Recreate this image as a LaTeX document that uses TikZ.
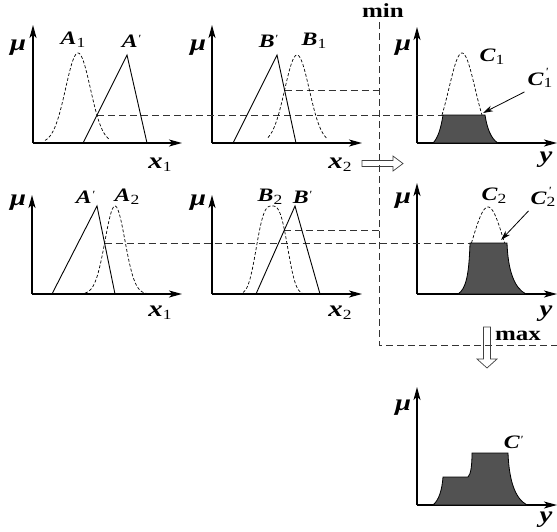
\documentclass[tikz,border=0pt]{standalone}
\usepackage{fontspec}
\setmainfont{Liberation Serif}[FakeStretch=1.25]
\usetikzlibrary{arrows.meta}
\newcommand\mysub[1]{\raisebox{-0.3ex}{\fontsize{14}{14}\selectfont\mdseries\upshape #1}}
\newcommand\myprm{\raisebox{0.55ex}{\fontsize{11}{11}\selectfont\mdseries\textquotesingle}}
\newcommand\mysubp[1]{\rlap{\kern1.5pt\raisebox{1.1ex}{\fontsize{11}{11}\selectfont\mdseries\textquotesingle}}\mysub{#1}}
\begin{document}
\begin{tikzpicture}[x=1pt,y=-1pt,
  axisln/.style={line width=1.2pt,-{Stealth[length=13pt,width=7pt,inset=3.5pt]}},
  tri/.style={line width=0.9pt},
  bell/.style={line width=0.7pt,dash pattern=on 3pt off 2pt},
  guide/.style={line width=0.8pt,dash pattern=on 7pt off 4pt,draw=black!80},
  area/.style={fill=black!68,draw=black,line width=0.8pt},
  lab/.style={font=\fontsize{19}{19}\selectfont\bfseries\itshape,inner sep=0pt},
  axlab/.style={font=\fontsize{23}{23}\selectfont\bfseries\itshape,inner sep=0pt},
  word/.style={font=\fontsize{20}{20}\selectfont\bfseries,inner sep=0pt},
  hollow/.style={draw=black!75,line width=0.7pt},
  pointer/.style={line width=0.8pt,-{Stealth[length=10pt,width=6pt]}}]
\useasboundingbox (0,0) rectangle (557,531);

% ---------- axes ----------
\coordinate (o1) at (33,143);  \coordinate (t1) at (33,25);  \coordinate (r1) at (182,143);
\coordinate (o2) at (212,143); \coordinate (t2) at (212,25); \coordinate (r2) at (362,143);
\coordinate (o3) at (417,143); \coordinate (t3) at (417,27); \coordinate (r3) at (557,143);
\coordinate (o4) at (32,294);  \coordinate (t4) at (32,195); \coordinate (r4) at (182,294);
\coordinate (o5) at (212,294); \coordinate (t5) at (212,195);\coordinate (r5) at (362,294);
\coordinate (o6) at (417,294); \coordinate (t6) at (417,183);\coordinate (r6) at (557,294);
\coordinate (o7) at (417,505); \coordinate (t7) at (417,387);\coordinate (r7) at (557,505);
\foreach \i in {1,...,7}{
  \draw[axisln] (o\i) -- (t\i);
  \draw[axisln] (o\i) -- (r\i);
}

% ---------- guide lines ----------
\coordinate (mtop) at (379,22);
\coordinate (mbot) at (379,345);
\coordinate (mend) at (557,345);
\draw[guide] (mtop) -- (mbot) -- (mend);
\draw[guide] (97,115) -- (443,115);
\draw[guide] (284.6,90) -- (379,90);
\draw[guide] (104.6,243) -- (470,243);
\draw[guide] (284.4,230) -- (379,230);

% ---------- row 1 ----------
\draw[bell] plot[domain=45:110,samples=60] (\x,{143-90*exp(-(\x-78)*(\x-78)/306.25)});
\draw[tri] (83,143) -- (127,55) -- (147,143);
\draw[tri] (233,143) -- (277,55) -- (296,143);
\draw[bell] plot[domain=268:327,samples=60] (\x,{143-88*exp(-(\x-297)*(\x-297)/302.76)});
\draw[area] (433,143) .. controls (438,138) and (441,128) .. (443,115) -- (485,115)
  .. controls (487,128) and (491,139) .. (498,143) -- cycle;
\draw[bell] plot[domain=442:482,samples=40] (\x,{143-90*exp(-(\x-462)*(\x-462)/342.25)});

% ---------- row 2 ----------
\draw[tri] (52,294) -- (97,206) -- (115,294);
\draw[bell] plot[domain=85:147,samples=60] (\x,{294-88*exp(-(\x-115)*(\x-115)/198.8)});
\draw[bell] plot[domain=243:302,samples=60] (\x,{294-88*exp(-(abs(\x-272)/18.2)*(abs(\x-272)/18.2)*(abs(\x-272)/18.2))});
\draw[tri] (256,294) -- (295,206) -- (320,294);
\draw[area] (458,294) .. controls (466,289) and (469,275) .. (470,243) -- (507,243)
  .. controls (508,270) and (514,288) .. (526,294) -- cycle;
\draw[bell] plot[domain=471.5:504.5,samples=40] (\x,{294-87*exp(-(\x-488)*(\x-488)/510.76)});

% ---------- row 3 ----------
\draw[area] (433,505) .. controls (439,500) and (442,490) .. (443,477) -- (468,477)
  .. controls (471,474) and (472,465) .. (472,453) -- (508,453)
  .. controls (509,478) and (514,498) .. (527,505) -- cycle;

% ---------- hollow arrows ----------
\draw[hollow] (362,160.5) -- (393,160.5) -- (393,156) -- (403,163.5) -- (393,171) -- (393,166.5) -- (362,166.5) -- cycle;
\draw[hollow] (483.5,327) -- (483.5,359) -- (477,359) -- (487,368) -- (497,359) -- (490.5,359) -- (490.5,327) -- cycle;

% ---------- labels ----------
\node[axlab] (mu1) at (18,48) {μ};
\node[lab] (lA1) at (73,40) {A\mysub{1}};
\node[lab] (lAp1) at (131,41) {A\myprm};
\node[axlab] (xa1) at (160,165) {x\mysub{1}};
\node[axlab] (mu2) at (198,48) {μ};
\node[lab] (lBp1) at (268,41) {B\myprm};
\node[lab] (lB1) at (314,41) {B\mysub{1}};
\node[axlab] (xa2) at (340,165) {x\mysub{2}};
\node[word] (min) at (383,11) {min};
\node[axlab] (mu3) at (403,48) {μ};
\node[lab] (lC1) at (492,57) {C\mysub{1}};
\node[lab] (lCp1) at (540,78) {C\mysubp{1}};
\node[axlab] (ya1) at (546,160) {y};

\node[axlab] (mu4) at (18,203) {μ};
\node[lab] (lAp2) at (85,197) {A\myprm};
\node[lab] (lA2) at (127,197) {A\mysub{2}};
\node[axlab] (xb1) at (160,313) {x\mysub{1}};
\node[axlab] (mu5) at (198,203) {μ};
\node[lab] (lB2) at (270,197) {B\mysub{2}};
\node[lab] (lBp2) at (302,197) {B\myprm};
\node[axlab] (xb2) at (340,313) {x\mysub{2}};
\node[axlab] (mu6) at (403,201) {μ};
\node[lab] (lC2) at (494,196) {C\mysub{2}};
\node[lab] (lCp2) at (543,197) {C\mysubp{2}};
\node[axlab] (ya2) at (546,314) {y};
\node[word] (max) at (518,336) {max};

\node[axlab] (mu7) at (403,408) {μ};
\node[lab] (lCp) at (513,442) {C\myprm};
\node[axlab] (ya3) at (546,520) {y};

% ---------- pointers ----------
\coordinate (p1) at (483,113);
\coordinate (p2) at (501,240);
\draw[pointer] (lCp1.south west) ++(-3,4) -- (p1);
\draw[pointer] (lCp2.south west) ++(-2,4) -- (p2);
\end{tikzpicture}
\end{document}
